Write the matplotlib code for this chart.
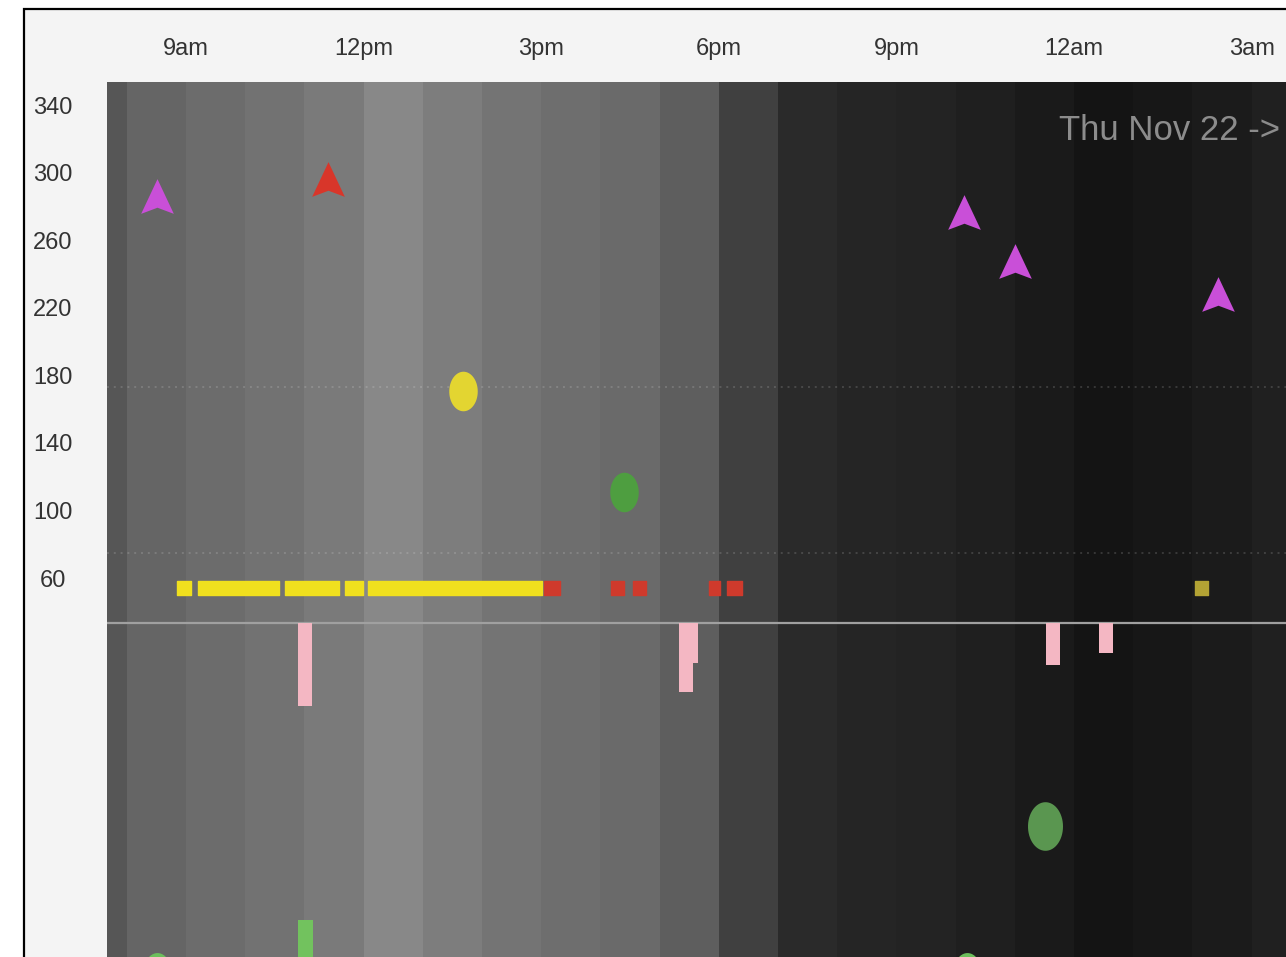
import matplotlib.pyplot as plt
import numpy as np
from matplotlib.path import Path
from matplotlib.patches import Rectangle

plt.rcParams['font.family'] = ['Liberation Sans Narrow', 'Liberation Sans', 'DejaVu Sans']

# hour bands (start hour, grey level)
band_start = [7, 8, 9, 10, 11, 12, 13, 14, 15, 16, 17, 18, 19, 20, 21, 22, 23, 24, 25, 26, 27]
band_grey = ['#565656', '#656565', '#6c6c6c', '#727272', '#7a7a7a', '#888888', '#7d7d7d',
             '#747474', '#6e6e6e', '#6a6a6a', '#5e5e5e', '#404040', '#2a2a2a', '#252525',
             '#232323', '#1f1f1f', '#1a1a1a', '#141414', '#171717', '#1b1b1b', '#202020']

hour_ticks = [9, 12, 15, 18, 21, 24, 27]
hour_labels = ['9am', '12pm', '3pm', '6pm', '9pm', '12am', '3am']
bg_ticks = [340, 300, 260, 220, 180, 140, 100, 60]

# cgm readings shown as runs of squares (start, end) in hours
cgm_yellow = [(8.85, 9.08), (9.20, 10.57), (10.67, 11.58), (11.69, 11.99), (12.07, 15.01)]
cgm_red = [(15.05, 15.32), (16.18, 16.40), (16.55, 16.77), (17.83, 18.02), (18.14, 18.39)]
cgm_olive = [(26.04, 26.26)]
cgm_level = 54

# smbg arrows
arrow_t = [8.51, 22.14, 23.00, 26.43]
arrow_v = [286, 277, 248, 228]
red_arrow_t = [11.40]
red_arrow_v = [296]

# circles
yellow_dot_t, yellow_dot_v = [13.68], [171]
green_dot_t, green_dot_v = [16.40], [111]
carb_t, carb_v = [23.51], [-87]
green_low_t, green_low_v = [8.51, 22.19], [-173]*2

# bolus bars hanging from the divider
divider = 33.4
bolus_t = [10.89, 17.33, 17.41, 23.53, 24.42]
bolus_end = [-15.8, -7.5, 9.7, 8.5, 15.6]
bolus_w = 0.24
basal_t, basal_top = [10.89], [-142.5]

target_lines = [173, 75]

fig = plt.figure(figsize=(12.86, 9.57), dpi=100)
fig.patch.set_facecolor('white')
fig.patches.append(Rectangle((24/1286, -0.1), 1.2, 1.1 - 9/957, transform=fig.transFigure,
                             facecolor='#f4f4f4', edgecolor='black', lw=1.6, zorder=-10))

ax = fig.add_axes([107/1286, 0, 1179/1286, 875/957])
ax.set_zorder(1)
ax.set_xlim(7.666, 27.58)
ax.set_ylim(-164.4, 353.7)

for s, c in zip(band_start, band_grey):
    ax.axvspan(s, s + 1, color=c, lw=0, zorder=0)

for v in target_lines:
    ax.axhline(v, color='white', alpha=0.15, lw=1.4, ls=(0, (1, 2.5)), zorder=1)
ax.axhline(divider, color='#a0a0a0', lw=1.6, zorder=1)

h = 8.3
ax.broken_barh([(a, b - a) for a, b in cgm_yellow], (cgm_level - h/2, h), color='#f0e01e', zorder=3)
ax.broken_barh([(a, b - a) for a, b in cgm_red], (cgm_level - h/2, h), color='#cf3a2c', zorder=3)
ax.broken_barh([(a, b - a) for a, b in cgm_olive], (cgm_level - h/2, h), color='#b3a334', zorder=3)

arrow = Path([(0, 17), (-16, -17), (0, -11), (16, -17), (0, 17)],
             [Path.MOVETO, Path.LINETO, Path.LINETO, Path.LINETO, Path.CLOSEPOLY])
ax.plot(arrow_t, arrow_v, ls='none', marker=arrow, ms=25, color='#c94fd8', mew=0, zorder=4)
ax.plot(red_arrow_t, red_arrow_v, ls='none', marker=arrow, ms=25, color='#d8362a', mew=0, zorder=4)

th = np.linspace(0, 2*np.pi, 60)
oval = Path(np.column_stack([0.72*np.cos(th), np.sin(th)]))
ax.plot(yellow_dot_t, yellow_dot_v, ls='none', marker=oval, ms=28.5, color='#e3d531', mew=0, zorder=4)
ax.plot(green_dot_t, green_dot_v, ls='none', marker=oval, ms=28.5, color='#4e9e40', mew=0, zorder=4)
ax.plot(carb_t, carb_v, ls='none', marker=oval, ms=35, color='#5a9650', mew=0, zorder=4)
ax.plot(green_low_t, green_low_v, ls='none', marker=oval, ms=28, color='#6cbf5c', mew=0, zorder=4)

ax.bar(bolus_t, [e - divider for e in bolus_end], width=bolus_w, bottom=divider, align='edge',
       color='#f4b7c3', lw=0, zorder=3)
ax.bar(basal_t, [t + 200 for t in basal_top], width=0.25, bottom=-200, align='edge',
       color='#72c25e', lw=0, zorder=3)

ax.text(0.995, 0.945, 'Thu Nov 22 ->', transform=ax.transAxes, ha='right', va='center',
        fontsize=25, color='#8c8c8c')

ax.xaxis.tick_top()
ax.set_xticks(hour_ticks)
ax.set_xticklabels(hour_labels)
ax.set_yticks(bg_ticks)
ax.set_yticklabels([str(v) for v in bg_ticks], ha='center')
ax.tick_params(axis='x', length=0, pad=16, labelsize=17, labelcolor='#333333')
ax.tick_params(axis='y', length=0, pad=39, labelsize=17, labelcolor='#333333')
for sp in ax.spines.values():
    sp.set_visible(False)

fig.savefig('out.png', dpi=100)
